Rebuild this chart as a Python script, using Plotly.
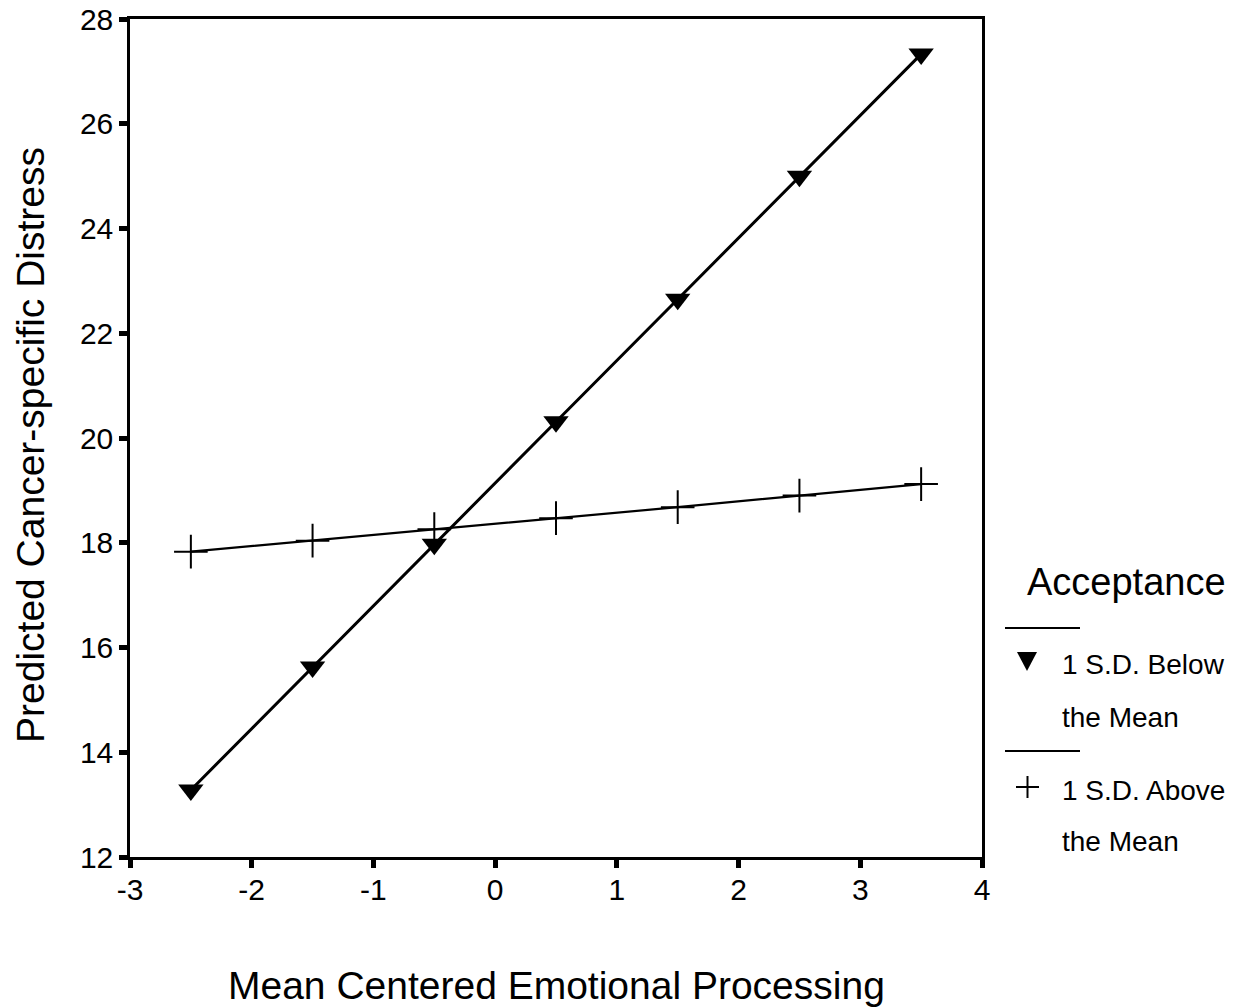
import plotly.graph_objects as go

x_vals = [-2.5, -1.5, -0.5, 0.5, 1.5, 2.5, 3.5]
below_mean = [13.28, 15.63, 17.97, 20.31, 22.65, 25.00, 27.33]
above_mean = [17.83, 18.04, 18.26, 18.47, 18.68, 18.90, 19.12]
x_ticks = [-3, -2, -1, 0, 1, 2, 3, 4]
y_ticks = [12, 14, 16, 18, 20, 22, 24, 26, 28]
legend_title = "Acceptance"

FONT = "Liberation Sans, Arial, sans-serif"

fig = go.Figure()
fig.add_trace(go.Scatter(
    x=x_vals, y=above_mean, mode="lines+markers", name="1 S.D. Above the Mean",
    line=dict(color="black", width=2.2),
    marker=dict(symbol="cross-thin", size=24, line=dict(color="black", width=2)),
    showlegend=False, cliponaxis=False))
fig.add_trace(go.Scatter(
    x=x_vals, y=below_mean, mode="lines+markers", name="1 S.D. Below the Mean",
    line=dict(color="black", width=3),
    marker=dict(symbol="triangle-down", size=22, color="black"),
    showlegend=False, cliponaxis=False))

W, H = 1256, 1007
L, R, T, B = 130, 982, 19, 857


def px(xp):
    return (xp - L) / (R - L)


def py(yp):
    return (B - yp) / (B - T)


annotations = [
    dict(text=legend_title, x=px(1025), y=py(582), font=dict(size=38)),
    dict(text="1 S.D. Below", x=px(1060), y=py(664), font=dict(size=28)),
    dict(text="the Mean", x=px(1060), y=py(717), font=dict(size=28)),
    dict(text="1 S.D. Above", x=px(1060), y=py(790), font=dict(size=28)),
    dict(text="the Mean", x=px(1060), y=py(841), font=dict(size=28)),
    dict(text="Mean Centered Emotional Processing", x=0.5, y=py(985),
         xanchor="center", font=dict(size=39)),
    dict(text="Predicted Cancer-specific Distress", x=px(30), y=py(445),
         xanchor="center", textangle=-90, font=dict(size=39)),
]
for a in annotations:
    a.setdefault("xanchor", "left")
    a.update(xref="paper", yref="paper", yanchor="middle", showarrow=False)
    a["font"].update(family=FONT, color="black")

shapes = [
    dict(type="line", x0=px(1005), x1=px(1080), y0=py(628), y1=py(628)),
    dict(type="line", x0=px(1005), x1=px(1080), y0=py(751), y1=py(751)),
    # legend glyph: triangle
    dict(type="path",
         path=f"M {px(1017)} {py(652)} L {px(1037)} {py(652)} L {px(1027)} {py(671)} Z",
         fillcolor="black", line=dict(width=0)),
    # legend glyph: plus
    dict(type="line", x0=px(1016), x1=px(1039), y0=py(787), y1=py(787)),
    dict(type="line", x0=px(1027.5), x1=px(1027.5), y0=py(776), y1=py(798)),
]
for s in shapes:
    s.update(xref="paper", yref="paper")
    if s["type"] == "line":
        s["line"] = dict(color="black", width=2)

fig.update_layout(
    width=W, height=H,
    margin=dict(l=L, r=W - R, t=T, b=H - B, autoexpand=False),
    paper_bgcolor="white", plot_bgcolor="white",
    font=dict(family=FONT, color="black"),
    annotations=annotations, shapes=shapes,
    xaxis=dict(
        range=[-3, 4], tickvals=x_ticks, ticktext=[str(v) for v in x_ticks],
        showgrid=False, zeroline=False, showline=True, linecolor="black",
        linewidth=2.5, mirror=True, ticks="outside", ticklen=8, tickwidth=5,
        tickcolor="black", tickfont=dict(size=30, family=FONT),
        ticklabelstandoff=-4, automargin=False,
    ),
    yaxis=dict(
        range=[12, 28], tickvals=y_ticks, ticktext=[str(v) for v in y_ticks],
        showgrid=False, zeroline=False, showline=True, linecolor="black",
        linewidth=2.5, mirror=True, ticks="outside", ticklen=8, tickwidth=5,
        tickcolor="black", tickfont=dict(size=30, family=FONT),
        automargin=False,
    ),
)

fig.write_html("out.html")
